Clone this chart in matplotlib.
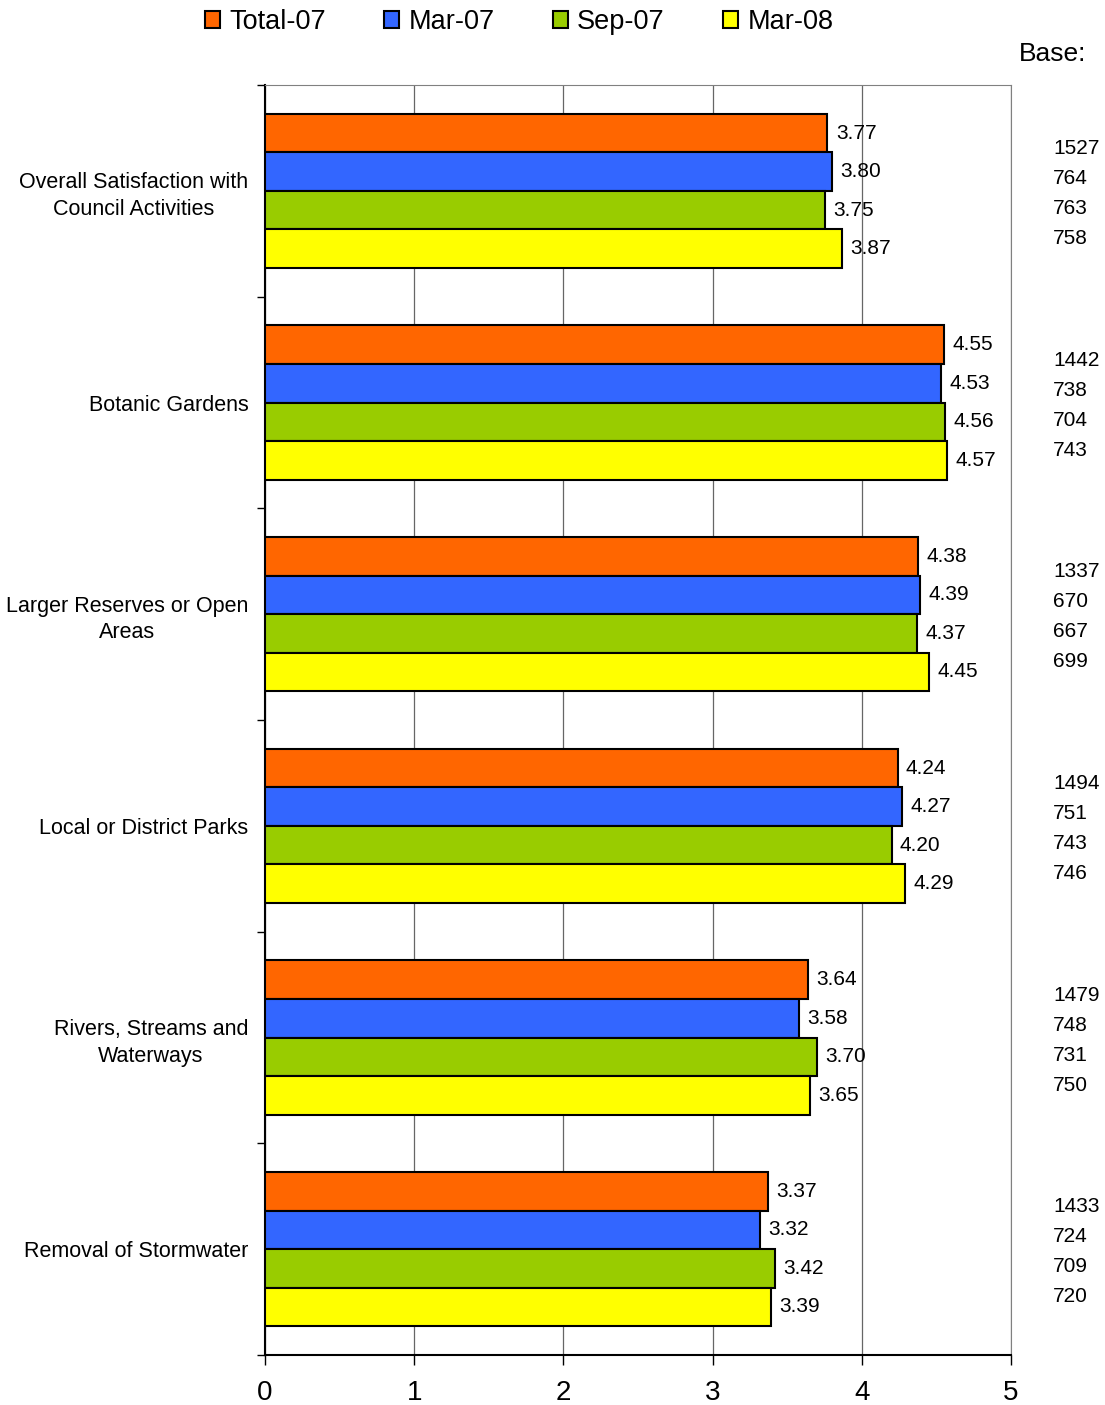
import numpy as np
import matplotlib
matplotlib.use('Agg')
import matplotlib.pyplot as plt
from matplotlib.patches import Patch

plt.rcParams['font.family'] = ['Liberation Sans', 'DejaVu Sans']

categories = ['Overall Satisfaction with\nCouncil Activities',
              'Botanic Gardens',
              'Larger Reserves or Open\nAreas',
              'Local or District Parks',
              'Rivers, Streams and\nWaterways',
              'Removal of Stormwater']
series = ['Total-07', 'Mar-07', 'Sep-07', 'Mar-08']
colors = ['#FF6600', '#3366FF', '#99CC00', '#FFFF00']

total_07 = [3.77, 4.55, 4.38, 4.24, 3.64, 3.37]
mar_07 = [3.80, 4.53, 4.39, 4.27, 3.58, 3.32]
sep_07 = [3.75, 4.56, 4.37, 4.20, 3.70, 3.42]
mar_08 = [3.87, 4.57, 4.45, 4.29, 3.65, 3.39]

base_total_07 = [1527, 1442, 1337, 1494, 1479, 1433]
base_mar_07 = [764, 738, 670, 751, 748, 724]
base_sep_07 = [763, 704, 667, 743, 731, 709]
base_mar_08 = [758, 743, 699, 746, 750, 720]

values = [total_07, mar_07, sep_07, mar_08]
bases = [base_total_07, base_mar_07, base_sep_07, base_mar_08]

fig = plt.figure(figsize=(11.05, 14.05), dpi=100)
ax = fig.add_axes([265 / 1105, 50 / 1405, 746 / 1105, 1270 / 1405])

y = np.arange(len(categories))
h = 0.182
offsets = [-1.5, -0.5, 0.5, 1.5]

for k in range(4):
    ax.barh(y + offsets[k] * h, values[k], height=h, color=colors[k],
            edgecolor='black', linewidth=1.5, zorder=3)
    for i, v in enumerate(values[k]):
        ax.annotate('%.2f' % v, xy=(v, y[i] + offsets[k] * h),
                    xytext=(6, 0), textcoords='offset points',
                    ha='left', va='center', fontsize=15, zorder=4)
        ax.annotate(str(bases[k][i]), xy=(1.0563, y[i]),
                    xycoords=('axes fraction', 'data'),
                    xytext=(0, -offsets[k] * 21.6 - 2), textcoords='offset points',
                    ha='left', va='center', fontsize=15, annotation_clip=False)

ax.set_xlim(0, 5)
ax.set_ylim(len(categories) - 0.5, -0.5)
ax.set_xticks([0, 1, 2, 3, 4, 5])
ax.tick_params(axis='x', direction='out', length=7, width=1, pad=11, labelsize=20)
ax.set_yticks(y)
ax.set_yticklabels(categories, fontsize=15.5, multialignment='center', linespacing=1.35)
ax.tick_params(axis='y', which='major', length=0, pad=12)
ax.set_yticks(np.arange(-0.5, len(categories)), minor=True)
ax.tick_params(axis='y', which='minor', direction='out', length=6, width=1)

ax.grid(axis='x', color='#666666', linewidth=0.9, zorder=0)
ax.set_axisbelow(True)
ax.spines['left'].set_color('black')
ax.spines['left'].set_linewidth(1.5)
ax.spines['bottom'].set_color('black')
ax.spines['bottom'].set_linewidth(1.5)
ax.spines['top'].set_color('#808080')
ax.spines['right'].set_color('#808080')

handles = [Patch(facecolor=c, edgecolor='black', linewidth=1.5) for c in colors]
fig.legend(handles, series, loc='center', bbox_to_anchor=(519 / 1105, 1 - 22 / 1405),
           ncol=4, frameon=False, fontsize=19.5, handlelength=0.55, handleheight=0.55,
           handletextpad=0.35, columnspacing=2.15)

fig.text(1086 / 1105, 1 - 54 / 1405, 'Base:', ha='right', va='center', fontsize=19)

fig.savefig('out.png', dpi=100)
